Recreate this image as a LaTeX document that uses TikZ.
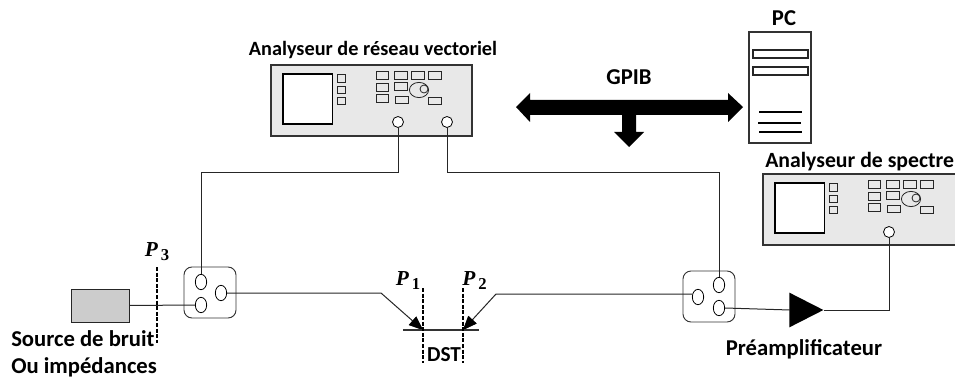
\documentclass[tikz,border=0pt]{standalone}
\usepackage{fontspec}
\setmainfont{Carlito}
\newfontfamily\pfont{Liberation Serif}
\usetikzlibrary{shapes.geometric,arrows.meta}
\tikzset{
  x=0.75pt,y=-0.75pt,
  lbl/.style={font=\fontsize{17pt}{19pt}\selectfont\bfseries,inner sep=0pt,text=black},
  lblsm/.style={font=\fontsize{15.2pt}{18pt}\selectfont\bfseries,inner sep=0pt,text=black},
  plbl/.style={font=\fontsize{16pt}{18pt}\selectfont\pfont\bfseries,inner sep=0pt},
  wire/.style={draw=black!85,line width=0.75pt},
  panel/.style={draw=black!80,line width=0.8pt,fill=black!9},
  btn/.style={draw=black!85,line width=0.6pt,fill=black!9},
  scr/.style={draw=black,line width=1.1pt,fill=white},
  knob/.style={draw=black!85,line width=0.6pt},
  port/.style={ellipse,draw=black,line width=0.6pt,fill=white,minimum width=8.25pt,minimum height=8.25pt,inner sep=0pt},
  cport/.style={ellipse,draw=black,line width=0.6pt,fill=white,minimum width=8.5pt,minimum height=11.5pt,inner sep=0pt},
  coup/.style={draw=black!80,line width=0.7pt,rounded corners=6pt,fill=white},
  cut/.style={draw=black,line width=1.1pt,dash pattern=on 3pt off 1.2pt},
  bus/.style={fill=black,draw=none},
  arr/.style={wire,-{Triangle[length=10.5pt,width=8.5pt,fill=black]}},
  ahead/.style={fill=black,draw=none},
}
\newcommand{\instr}[2]{%
 \begin{scope}[shift={(#1,#2)}]
  \draw[panel] (271,65) rectangle (472,136);
  \draw[scr] (283,74) rectangle (332.5,124);
  \foreach \a/\b in {74.5/82,86/93,97/104} \draw[btn] (337,\a) rectangle (345,\b);
  \foreach \a/\b/\c/\d in {376/71.5/388/79,394/71.5/407/79,411/71.5/424/79,428/71.5/441/79,
     376/83/388/91,394/82/407/90,376/94/388/102,395/96/408/103,428/97/441/104}
    \draw[btn] (\a,\b) rectangle (\c,\d);
  \draw[knob] (419,90) ellipse [x radius=7.2pt,y radius=5.7pt];
  \draw[knob] (424,89) circle [radius=3pt];
 \end{scope}}
\begin{document}
\begin{tikzpicture}
\useasboundingbox (0,0) rectangle (955,381);
\clip (0,0) rectangle (955,381);
% instruments
\instr{0}{0}
\instr{492}{109}
\node[port] (vna1) at (398,122) {};
\node[port] (vna2) at (447,122) {};
\node[port] (sa) at (889,232) {};
% PC
\draw[panel,fill=white] (749,32) rectangle (811,143);
\draw[btn,fill=white,line width=1pt] (753,50) rectangle (808,58);
\draw[btn,fill=white,line width=1pt] (753,67) rectangle (808,75);
\draw[black,line width=0.9pt] (759,112) -- (802,112) (758,123) -- (801,123) (759,132) -- (802,132);
% bus
\fill[bus] (516,107) -- (530,93) -- (530,100) -- (728,100) -- (728,93) -- (743,107) -- (728,122) -- (728,115)
  -- (636,115) -- (636,132) -- (644,132) -- (629,147) -- (614,132) -- (622,132) -- (622,115)
  -- (530,115) -- (530,122) -- cycle;
% couplers
\draw[coup] (184,267) rectangle (236,318);
\draw[coup] (683,271) rectangle (735,322);
% source
\node[draw=black!85,line width=0.7pt,fill=black!20,minimum width=43.5pt,minimum height=24.75pt,inner sep=0pt] (src) at (100,305.5) {};
% amplifier
\node[isosceles triangle,isosceles triangle apex angle=54,draw=none,fill=black,minimum height=25.5pt,inner sep=0pt,anchor=apex] (amp) at (824,310) {};
% wires
\coordinate (d1a) at (381,293);
\coordinate (d2a) at (496,294);
\coordinate (t1) at (423,330);
\coordinate (t2) at (463,330);
\coordinate (bl) at (403,330);
\coordinate (br) at (479,330);
\node[cport] (c1a) at (201,282) {};
\node[cport] (c1b) at (201,305) {};
\node[cport] (c1c) at (221,293) {};
\node[cport] (c2a) at (719,285) {};
\node[cport] (c2b) at (719,308) {};
\node[cport] (c2c) at (698,297) {};
\coordinate (w1) at (398,172.5);
\coordinate (w2) at (201,172.5);
\coordinate (w3) at (447,172.5);
\coordinate (w4) at (719,172.5);
\draw[wire] (vna1.south) -- (w1) -- (w2) -- (c1a.north);
\draw[wire] (vna2.south) -- (w3) -- (w4) -- (c2a.north);
\draw[wire] (src.east) -- (c1b.west);
\draw[wire] (c2b.east) -- (790,310);
\draw[wire] (amp.apex) -| (sa.south);
\draw[arr] (c1c.east) -- (d1a) -- (t1);
\draw[arr] (c2c.west |- d2a) -- (d2a) -- (t2);
\fill[ahead] (t1) -- (416.1,316.7) -- (408.9,324.9) -- cycle;
\fill[ahead] (t2) -- (476.5,323.4) -- (468.5,316) -- cycle;
\draw[black!80,line width=1.2pt] (bl) -- (br);
% cut planes
\coordinate (p3a) at (157,267); \coordinate (p3b) at (157,343);
\coordinate (p1a) at (423,288); \coordinate (p1b) at (423,363);
\coordinate (p2a) at (463,288); \coordinate (p2b) at (463,363);
\draw[cut] (p3a) -- (p3b);
\draw[cut] (p1a) -- (p1b);
\draw[cut] (p2a) -- (p2b);
% labels
\node[lblsm] (lvna) at (373,50) {Analyseur de réseau vectoriel};
\node[lbl,anchor=west,font=\fontsize{16.3pt}{19pt}\selectfont\bfseries] (lsa) at (765,162) {Analyseur de spectre};
\node[lbl] (lpc) at (784,18) {PC};
\node[lbl] (lgpib) at (629,77) {GPIB};
\node[lbl,anchor=west] (ls1) at (11,339) {Source de bruit};
\node[lbl,anchor=west] (ls2) at (11,367) {Ou impédances};
\node[lbl] (lpre) at (804,349) {Préamplificateur};
\node[lbl,font=\fontsize{16pt}{18pt}\selectfont\bfseries] (ldst) at (444,355) {DST};
\node[plbl] (lp3) at (157,252) {\textit{P}\raisebox{-3pt}{\fontsize{12.5pt}{14pt}\selectfont\,3}};
\node[plbl] (lp1) at (408,281) {\textit{P}\raisebox{-3pt}{\fontsize{12.5pt}{14pt}\selectfont\,1}};
\node[plbl] (lp2) at (474.5,281) {\textit{P}\raisebox{-3pt}{\fontsize{12.5pt}{14pt}\selectfont\,2}};
\end{tikzpicture}
\end{document}
